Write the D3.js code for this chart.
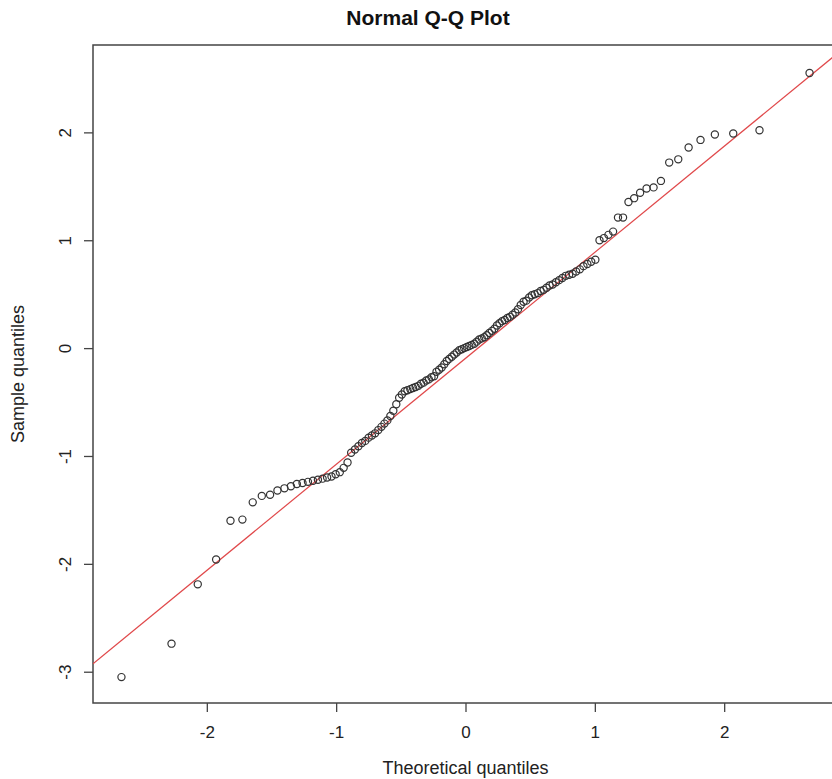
<!DOCTYPE html>
<html>
<head>
<meta charset="utf-8">
<script src="https://cdn.jsdelivr.net/npm/d3@7"></script>
<style>
  body { margin: 0; background: #fff; }
  text { font-family: "Liberation Sans", Arial, sans-serif; fill: #222; }
</style>
</head>
<body>
<div id="chart"></div>
<script>
// theoretical quantiles (x) and sorted sample quantiles (y)
var theoretical = [-2.66,-2.273,-2.07,-1.928,-1.817,-1.725,-1.645,-1.575,-1.511,-1.454,
  -1.4,-1.35,-1.304,-1.26,-1.218,-1.179,-1.141,-1.105,-1.07,-1.036,
  -1.004,-0.972,-0.942,-0.912,-0.884,-0.855,-0.828,-0.801,-0.775,-0.749,
  -0.724,-0.699,-0.674,-0.65,-0.627,-0.604,-0.581,-0.558,-0.535,-0.513,
  -0.492,-0.47,-0.449,-0.427,-0.406,-0.385,-0.364,-0.344,-0.324,-0.303,
  -0.283,-0.263,-0.243,-0.224,-0.204,-0.184,-0.164,-0.145,-0.126,-0.106,
  -0.087,-0.068,-0.048,-0.029,-0.01,0.01,0.029,0.048,0.068,0.087,
  0.106,0.126,0.145,0.164,0.184,0.204,0.224,0.243,0.263,0.283,
  0.303,0.324,0.344,0.364,0.385,0.406,0.427,0.449,0.47,0.492,
  0.513,0.535,0.558,0.581,0.604,0.627,0.65,0.674,0.699,0.724,
  0.749,0.775,0.801,0.828,0.855,0.884,0.912,0.942,0.972,1.004,
  1.036,1.07,1.105,1.141,1.179,1.218,1.26,1.304,1.35,1.4,
  1.454,1.511,1.575,1.645,1.725,1.817,1.928,2.07,2.273,2.66];

var sample = [-3.05,-2.74,-2.19,-1.96,-1.60,-1.59,-1.43,-1.37,-1.36,-1.32,
  -1.30,-1.28,-1.26,-1.25,-1.24,-1.23,-1.22,-1.21,-1.20,-1.19,
  -1.17,-1.15,-1.11,-1.06,-0.97,-0.94,-0.91,-0.88,-0.86,-0.83,
  -0.81,-0.79,-0.76,-0.73,-0.70,-0.67,-0.63,-0.58,-0.52,-0.46,
  -0.43,-0.40,-0.39,-0.38,-0.37,-0.36,-0.35,-0.33,-0.32,-0.30,
  -0.29,-0.27,-0.26,-0.22,-0.20,-0.18,-0.15,-0.12,-0.10,-0.08,
  -0.06,-0.04,-0.02,-0.01,0.00,0.01,0.02,0.03,0.04,0.06,
  0.08,0.09,0.10,0.12,0.14,0.16,0.18,0.21,0.23,0.25,
  0.26,0.28,0.29,0.31,0.33,0.36,0.40,0.43,0.44,0.47,
  0.49,0.50,0.51,0.53,0.54,0.56,0.58,0.59,0.61,0.63,
  0.65,0.67,0.68,0.69,0.71,0.73,0.76,0.78,0.80,0.82,
  1.00,1.02,1.05,1.08,1.21,1.21,1.355,1.39,1.44,1.48,
  1.49,1.55,1.72,1.75,1.86,1.93,1.98,1.99,2.02,2.55];

var xTicks = [-2, -1, 0, 1, 2];
var yTicks = [-3, -2, -1, 0, 1, 2];
var xDomain = [-2.88, 2.88];
var yDomain = [-3.29, 2.81];
// reference line: intercept, slope
var qqLine = [-0.095, 0.983];

var svgWidth = 832;
var svgHeight = 779;
var margin = { top: 45, right: -6, bottom: 76, left: 93 };
var chWidth = svgWidth - margin.left - margin.right;
var chHeight = svgHeight - margin.top - margin.bottom;

var svg = d3.select("#chart")
  .append("svg")
  .attr("width", svgWidth)
  .attr("height", svgHeight);

var chGroup = svg.append("g")
  .attr("transform", `translate(${margin.left}, ${margin.top})`);

var xScale = d3.scaleLinear().domain(xDomain).range([0, chWidth]);
var yScale = d3.scaleLinear().domain(yDomain).range([chHeight, 0]);

var points = theoretical.map((t, i) => ({ x: t, y: sample[i] }));

// clip for the line
chGroup.append("clipPath").attr("id", "plotclip")
  .append("rect").attr("width", chWidth).attr("height", chHeight);

// x axis (plain hyphen minus like base R)
var xAxis = d3.axisBottom(xScale).tickValues(xTicks).tickSize(9).tickPadding(14)
  .tickFormat(d => String(d));
var gx = chGroup.append("g")
  .attr("transform", `translate(0, ${chHeight})`)
  .call(xAxis);
gx.select(".domain").remove();
gx.selectAll("line").attr("stroke", "#444").attr("stroke-width", 1.3);
gx.selectAll("text").attr("font-size", "17px").attr("fill", "#222");

// y axis, labels rotated like base R
var yAxis = d3.axisLeft(yScale).tickValues(yTicks).tickSize(9).tickFormat(d => String(d));
var gy = chGroup.append("g").call(yAxis);
gy.select(".domain").remove();
gy.selectAll("line").attr("stroke", "#444").attr("stroke-width", 1.3);
gy.selectAll("text")
  .attr("font-size", "17px")
  .attr("fill", "#222")
  .attr("x", 0)
  .attr("text-anchor", "middle")
  .attr("transform", "translate(-28,0) rotate(-90)")
  .attr("dy", "0.35em");

// box
chGroup.append("rect")
  .attr("width", chWidth)
  .attr("height", chHeight)
  .attr("fill", "none")
  .attr("stroke", "#444")
  .attr("stroke-width", 1.5);

// qq line
chGroup.append("line")
  .attr("clip-path", "url(#plotclip)")
  .attr("x1", xScale(xDomain[0]))
  .attr("y1", yScale(qqLine[0] + qqLine[1] * xDomain[0]))
  .attr("x2", xScale(xDomain[1]))
  .attr("y2", yScale(qqLine[0] + qqLine[1] * xDomain[1]))
  .attr("stroke", "#e0484a")
  .attr("stroke-width", 1.2);

// points
chGroup.selectAll("circle")
  .data(points)
  .enter()
  .append("circle")
  .attr("cx", d => xScale(d.x))
  .attr("cy", d => yScale(d.y))
  .attr("r", 3.6)
  .attr("fill", "none")
  .attr("stroke", "#333")
  .attr("stroke-width", 1.2);

// title and axis labels
svg.append("text")
  .attr("x", 428)
  .attr("y", 25)
  .attr("text-anchor", "middle")
  .attr("font-size", "21px")
  .attr("font-weight", "bold")
  .style("fill", "#111")
  .text("Normal Q-Q Plot");

svg.append("text")
  .attr("x", margin.left + xScale(0))
  .attr("y", 774)
  .attr("text-anchor", "middle")
  .attr("font-size", "18px")
  .text("Theoretical quantiles");

svg.append("text")
  .attr("transform", `translate(24, ${margin.top + chHeight / 2}) rotate(-90)`)
  .attr("text-anchor", "middle")
  .attr("font-size", "18px")
  .text("Sample quantiles");
</script>
</body>
</html>
